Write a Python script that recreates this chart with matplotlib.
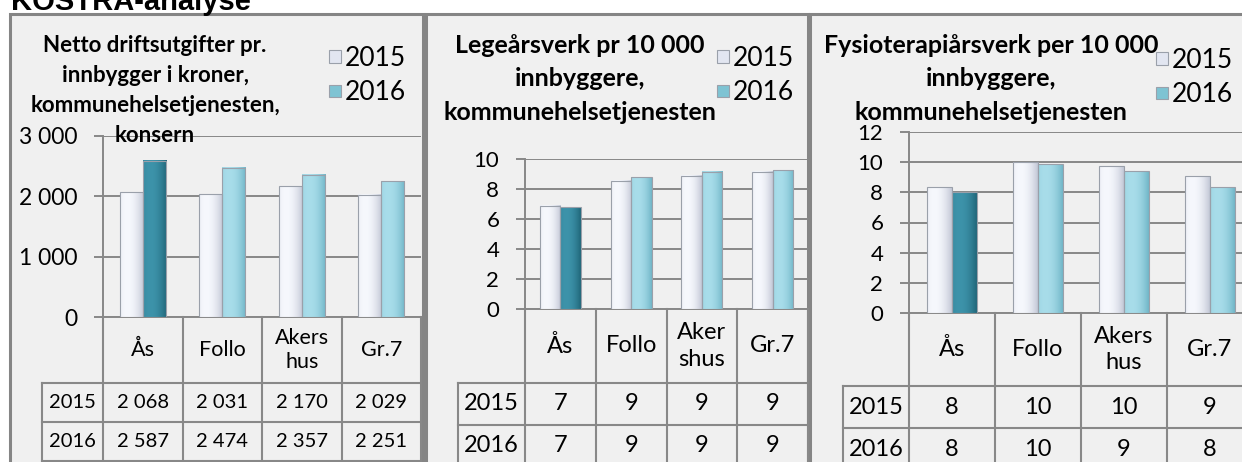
import matplotlib
matplotlib.use('Agg')
import matplotlib.pyplot as plt
import numpy as np
from matplotlib.patches import Rectangle, Patch
from matplotlib.transforms import blended_transform_factory

# ---------------- data ----------------
main_title = 'KOSTRA-analyse'
years = ['2015', '2016']
cats_a = ['Ås', 'Follo', 'Akers\nhus', 'Gr.7']
cats_b = ['Ås', 'Follo', 'Aker\nshus', 'Gr.7']

netto_2015 = [2068, 2031, 2170, 2029]
netto_2016 = [2587, 2474, 2357, 2251]
lege_2015 = [6.9, 8.55, 8.9, 9.15]
lege_2016 = [6.8, 8.8, 9.15, 9.25]
fysio_2015 = [8.33, 10.0, 9.73, 9.07]
fysio_2016 = [8.0, 9.87, 9.4, 8.33]

netto_ticks = [0, 1000, 2000, 3000]
lege_ticks = [0, 2, 4, 6, 8, 10]
fysio_ticks = [0, 2, 4, 6, 8, 10, 12]

title_netto = 'Netto driftsutgifter pr.\ninnbygger i kroner,\nkommunehelsetjenesten,\nkonsern'
title_lege = 'Legeårsverk pr 10 000\ninnbyggere,\nkommunehelsetjenesten'
title_fysio = 'Fysioterapiårsverk per 10 000\ninnbyggere,\nkommunehelsetjenesten'

# ---------------- style ----------------
W, H = 1242, 462
FONT = ['Lato', 'DejaVu Sans']
plt.rcParams['font.family'] = FONT
GRID = '#888888'
BG = '#F0F0F0'
BORDER = '#858585'
C15 = ('#BFC4D3', '#F6F8FD')
C16 = ('#6DB3C5', '#A8DDEA')
C16_AS = ('#1E6376', '#3D93AA')

fig = plt.figure(figsize=(W / 100, H / 100), dpi=100)
fig.patch.set_facecolor('white')

bg = fig.add_axes([0, 0, 1, 1])
bg.set_xlim(0, W); bg.set_ylim(H, 0); bg.axis('off'); bg.set_zorder(0)
fg = fig.add_axes([0, 0, 1, 1])
fg.set_xlim(0, W); fg.set_ylim(H, 0); fg.axis('off'); fg.set_zorder(5)
fg.patch.set_alpha(0)

fg.text(11, 10, main_title, fontfamily=['Liberation Sans', 'DejaVu Sans'],
        fontweight='bold', fontsize=21, va='baseline', ha='left')


def gradient_bars(ax, xs, vals, width, cols):
    bars = ax.bar(xs, vals, width, color=[c[0] for c in cols], linewidth=0, zorder=3)
    t = np.linspace(0, 1, 80)
    f = np.clip(1 - ((t - 0.3) / 0.72) ** 2, 0, 1)
    for b, (dark, light) in zip(bars, cols):
        d = np.array(matplotlib.colors.to_rgb(dark))
        l = np.array(matplotlib.colors.to_rgb(light))
        img = (d[None, :] * (1 - f[:, None]) + l[None, :] * f[:, None])[None, :, :]
        x, w, h = b.get_x(), b.get_width(), b.get_height()
        ax.imshow(img, extent=[x, x + w, 0, h], aspect='auto', zorder=3.2,
                  clip_path=b, interpolation='bilinear')
    ax.bar(xs, vals, width, facecolor='none', edgecolor='#9AA0AA', linewidth=0.8, zorder=3.5)
    return bars


panels = [
    dict(box=(10, 14, 423, 480), ax=(103, 421, 317, 136), lab_bot=383, row=39, hdr=42,
         v15=netto_2015, v16=netto_2016, ticks=netto_ticks, cats=cats_a,
         fmt=lambda v: f'{v:,}'.replace(',', '\u00a0'), tickfs=16.5, tabfs=14.5, catfs=15.5,
         title=title_netto, tpos=(155, 35), tfs=16, tls=1.52,
         leg=(329, 46), legfs=19),
    dict(box=(426, 14, 808, 480), ax=(525, 808, 309, 159), lab_bot=383, row=42, hdr=458,
         v15=lege_2015, v16=lege_2016, ticks=lege_ticks, cats=cats_b,
         fmt=lambda v: f'{int(v + 0.5)}', tickfs=16, tabfs=17, catfs=17,
         title=title_lege, tpos=(580, 34), tfs=18, tls=1.55,
         leg=(717, 46), legfs=19),
    dict(box=(810, 14, 1300, 480), ax=(909, 1253, 313, 132), lab_bot=386, row=42, hdr=843,
         v15=fysio_2015, v16=fysio_2016, ticks=fysio_ticks, cats=cats_a,
         fmt=lambda v: f'{int(v + 0.5)}', tickfs=16, tabfs=17, catfs=17,
         title=title_fysio, tpos=(991, 34), tfs=18, tls=1.55,
         leg=(1156, 48), legfs=19),
]

for p in panels:
    x0b, y0b, x1b, y1b = p['box']
    bg.add_patch(Rectangle((x0b, y0b), x1b - x0b, y1b - y0b, facecolor=BG,
                           edgecolor=BORDER, linewidth=2.2, zorder=0))
    axl, axr, ybot, ytop = p['ax']
    ax = fig.add_axes([axl / W, 1 - ybot / H, (axr - axl) / W, (ybot - ytop) / H])
    ax.set_zorder(2)
    ax.patch.set_alpha(0)
    n = len(p['v15'])
    xs = np.arange(n)
    bw = 0.29
    cols16 = [C16_AS] + [C16] * (n - 1)
    gradient_bars(ax, xs - bw / 2, p['v15'], bw, [C15] * n)
    gradient_bars(ax, xs + bw / 2, p['v16'], bw, cols16)
    ax.set_xlim(-0.5, n - 0.5)
    ax.set_ylim(p['ticks'][0], p['ticks'][-1])
    ax.set_yticks(p['ticks'])
    ax.set_yticklabels([p['fmt'](t) for t in p['ticks']])
    ax.set_xticks([])
    ax.yaxis.grid(True, color=GRID, linewidth=1.4)
    ax.set_axisbelow(True)
    for s in ['top', 'right']:
        ax.spines[s].set_visible(False)
    for s in ['left', 'bottom']:
        ax.spines[s].set_color(GRID)
        ax.spines[s].set_linewidth(1.4)
    ax.tick_params(axis='y', length=6.5, width=1.4, color=GRID, pad=12,
                   labelsize=p['tickfs'], labelcolor='black')

    # data table below axis
    tr = blended_transform_factory(ax.transData, fg.transData)
    lab_bot = p['lab_bot']
    r1 = lab_bot + p['row']
    r2 = r1 + p['row']
    for b in np.arange(n + 1) - 0.5:
        fg.plot([b, b], [ybot, r2], color=GRID, lw=1.5, transform=tr, clip_on=False)
    for yy in (lab_bot, r1, r2):
        fg.plot([p['hdr'], axr], [yy, yy], color=GRID, lw=1.5, clip_on=False)
    fg.plot([p['hdr'], p['hdr']], [lab_bot, r2], color=GRID, lw=1.5, clip_on=False)
    for i, c in enumerate(p['cats']):
        fg.text(i, (ybot + lab_bot) / 2, c, transform=tr, ha='center', va='center',
                fontsize=p['catfs'], linespacing=1.3)
    for yr, vals, yc in ((years[0], p['v15'], (lab_bot + r1) / 2),
                         (years[1], p['v16'], (r1 + r2) / 2)):
        fg.text((p['hdr'] + axl) / 2, yc, yr, ha='center', va='center', fontsize=p['tabfs'])
        for i, v in enumerate(vals):
            fg.text(i, yc, p['fmt'](v), transform=tr, ha='center', va='center',
                    fontsize=p['tabfs'])

    # title
    fg.text(p['tpos'][0], p['tpos'][1], p['title'], ha='center', va='top',
            fontsize=p['tfs'], fontweight='bold', linespacing=p['tls'])

    # legend
    handles = [Patch(facecolor='#E2E6F1', edgecolor='#9AA0AA', linewidth=0.8),
               Patch(facecolor='#7EC3D3', edgecolor='#9AA0AA', linewidth=0.8)]
    ax.legend(handles, years, loc='upper left',
              bbox_to_anchor=(p['leg'][0] / W, 1 - p['leg'][1] / H),
              bbox_transform=fig.transFigure, frameon=False, fontsize=p['legfs'],
              handlelength=0.47, handleheight=0.33, handletextpad=0.12,
              labelspacing=0.35, borderpad=0, borderaxespad=0)

fig.savefig('out.png', dpi=100, facecolor='white')
